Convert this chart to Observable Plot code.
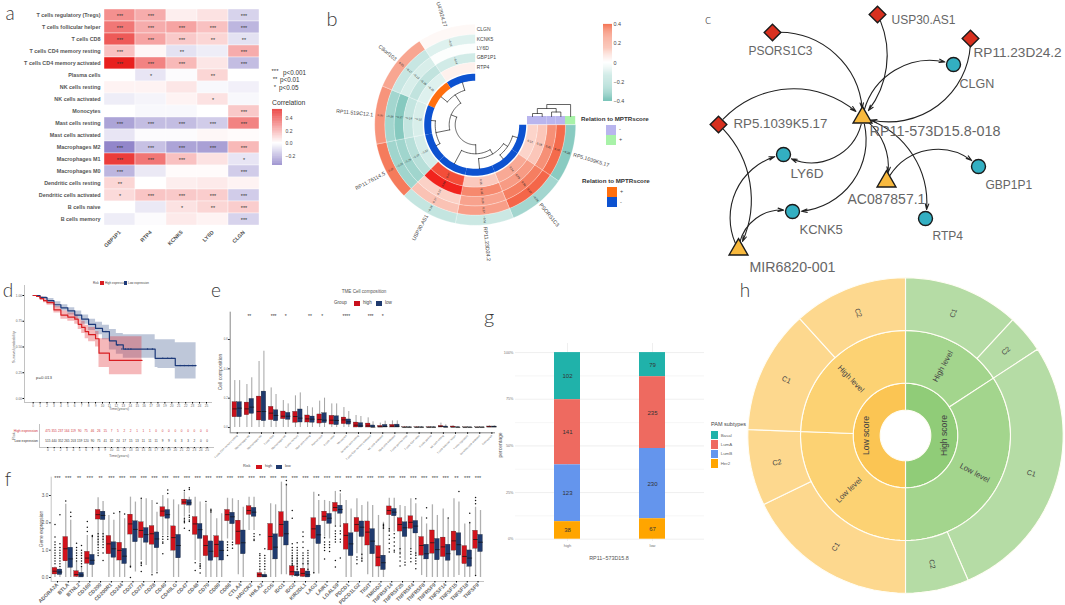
<!doctype html>
<html><head><meta charset="utf-8">
<script src="https://cdn.jsdelivr.net/npm/d3@7"></script>
<script src="https://cdn.jsdelivr.net/npm/@observablehq/plot@0.6"></script>
<style>
html,body{margin:0;padding:0;background:#fff}
#page{position:relative;width:1065px;height:605px;overflow:hidden;font-family:"Liberation Sans",Arial,sans-serif}
.t{position:absolute;white-space:nowrap;line-height:1}
.s{position:absolute}
</style></head><body><div id="page"></div>
<script>
// ---------- a: immune-cell correlation heatmap
const immuneCells=["T cells regulatory (Tregs)","T cells follicular helper","T cells CD8","T cells CD4 memory resting","T cells CD4 memory activated","Plasma cells","NK cells resting","NK cells activated","Monocytes","Mast cells resting","Mast cells activated","Macrophages M2","Macrophages M1","Macrophages M0","Dendritic cells resting","Dendritic cells activated","B cells naive","B cells memory"];
const heatGenes=["GBP1P1","RTP4","KCNK5","LY6D","CLGN"];
const corrValues=[[.27,.2,.04,.07,-.12],[.33,.2,.22,.15,-.2],[.4,.22,.13,.1,-.08],[.15,.02,-.08,-.05,.2],[.54,.3,.17,.06,-.18],[0,-.07,-.01,.1,0],[.03,.03,.06,-.02,-.04],[-.05,-.03,.03,.07,-.02],[0,-.02,-.02,0,.13],[-.25,-.18,-.18,-.14,.3],[-.07,-.01,-.01,.02,.01],[-.33,-.17,-.25,-.26,.17],[.47,.33,.15,.07,-.07],[-.2,-.06,.01,.01,-.14],[.1,0,.04,.05,.03],[.09,.14,.13,.12,-.14],[0,-.06,.07,.1,.12],[-.05,-.01,.05,.03,-.12]];
const corrStars=[["***","***","","","***"],["***","***","***","***","***"],["***","***","***","**","**"],["***","","**","","***"],["***","***","***","","***"],["","*","","**",""],["","","","",""],["","","","*",""],["","","","","***"],["***","***","***","***","***"],["","","","",""],["***","***","***","***","***"],["***","***","***","","*"],["***","","","","***"],["**","","","",""],["*","***","***","***","***"],["","","*","**","***"],["","","","","***"]];
// ---------- b: circular heatmap
const lncRNAs=["U47924.27","C8orf103","RP11.519C12.1","RP11.76114.5","USP30.AS1","RP11.23D24.2","PSORS1C3","RP5.1039K5.17"];
const circleGenes=["CLGN","KCNK5","LY6D","GBP1P1","RTP4"];
const circleValues=[[.02,-.1,-.01,-.14,.04],[.25,-.17,-.12,-.19,-.1],[.3,-.28,-.37,-.18,-.12],[.37,-.29,-.29,-.22,-.13],[-.18,.17,.13,.56,.47],[-.16,.27,.26,.33,.15],[-.28,.42,.36,.28,.24],[-.36,.41,.31,.16,.12]];
const relationToScore=["-","+","-","-","-","-","-","-"];
const columnRelation=["+","-","-","-","-"];
// ---------- c: network
const netNodes=[["PSORS1C3","lnc",772,32],["USP30.AS1","lnc",877,14],["RP11.23D24.2","lnc",970,38],["RP5.1039K5.17","lnc",718,124],["RP11-573D15.8-018","mir",862,117],["AC087857.1","mir",886,181],["MIR6820-001","mir",738,249],["CLGN","gene",953,64],["LY6D","gene",783,154],["GBP1P1","gene",978,166],["KCNK5","gene",792,211],["RTP4","gene",925,218]];
const netLabels=[["PSORS1C3",748,51],["USP30.AS1",891,20],["RP11.23D24.2",973,52],["RP5.1039K5.17",733,123],["RP11-573D15.8-018",869,131],["AC087857.1",847,199],["MIR6820-001",749,267],["CLGN",959,83],["LY6D",790,173],["GBP1P1",985,185],["KCNK5",799,229],["RTP4",932,236]];
const netEdges=[["PSORS1C3","RP11-573D15.8-018",48],["USP30.AS1","RP11-573D15.8-018",35],["RP11.23D24.2","RP11-573D15.8-018",55],["RP11-573D15.8-018","CLGN",50],["RP5.1039K5.17","RP11-573D15.8-018",48],["RP11-573D15.8-018","LY6D",58],["RP11-573D15.8-018","KCNK5",55],["RP11-573D15.8-018","AC087857.1",35],["RP11-573D15.8-018","RTP4",42],["AC087857.1","GBP1P1",55],["MIR6820-001","LY6D",55],["MIR6820-001","KCNK5",50],["RP5.1039K5.17","MIR6820-001",38]];
// ---------- d: survival
const kmHighT=[0,.5,1,1.5,2,3,4,5,6,6.5,7,7.5,8,9,9.5,11,15.7];
const kmHighS=[1,.99,.97,.95,.93,.86,.81,.79,.77,.72,.69,.65,.62,.58,.44,.37,.37];
const kmHighHi=[1,.995,.985,.97,.95,.89,.85,.83,.81,.77,.75,.71,.69,.65,.58,.6,.6];
const kmHighLo=[1,.985,.955,.93,.905,.83,.77,.75,.72,.67,.63,.58,.55,.5,.3,.23,.23];
const kmLowT=[0,1,2,3,4,5,6,7,8,9,10,11,12,13,17.6,18,20.5,23.5];
const kmLowS=[1,.98,.95,.91,.88,.85,.81,.77,.72,.68,.65,.56,.52,.48,.39,.39,.32,.32];
const kmLowHi=[1,.99,.97,.94,.91,.88,.85,.81,.77,.74,.71,.67,.63,.62,.57,.57,.54,.54];
const kmLowLo=[1,.97,.93,.88,.85,.81,.77,.72,.66,.62,.57,.47,.43,.39,.3,.29,.19,.19];
const lowCensorT=[10.5,12.2,12.8,13.3,13.7,14.1,16.5,17.2,18.7,19.4,20,21.2,21.8,22.4,23,23.4];
const lowCensorS=[.65,.52,.48,.48,.48,.48,.48,.48,.39,.39,.39,.32,.32,.32,.32,.32];
const riskHigh=[475,355,237,164,119,90,75,46,26,15,7,5,2,2,1,1,1,0,0,0,0,0,0,0,0,0];
const riskLow=[515,440,352,265,203,159,120,90,75,41,32,24,17,15,13,11,11,11,9,9,6,3,3,2,0,0];
// ---------- e: TME composition, [whisker top, q3, median, q1, whisker bottom]
const tmeCells=["T cells CD4 memory resting","Macrophages M2","Macrophages M0","T cells CD8","Macrophages M1","B cells memory","Mast cells resting","Plasma cells","B cells naive","Monocytes","Dendritic cells resting","T cells CD4 memory activated","NK cells activated","Mast cells activated","T cells gamma delta","T cells CD4 naive","B cells plasma","NK cells resting","T cells follicular helper","T cells regulatory","Dendritic cells activated","Eosinophils"];
const tmeHigh=[[.32,.173,.127,.07,0],[.293,.17,.127,.084,0],[.45,.211,.109,.048,0],[.27,.141,.098,.05,0],[.184,.109,.077,.057,0],[.216,.107,.075,.032,0],[.143,.082,.059,.034,0],[.18,.089,.055,.027,0],[.161,.08,.05,.02,0],[.136,.068,.052,.023,0],[.082,.034,.016,0,0],[.066,.027,.011,0,0],[.03,.011,.005,0,0],[.045,.018,.009,0,0],[.007,.002,0,0,0],[.007,.002,0,0,0],[.007,.002,0,0,0],[.03,.011,.007,0,0],[.011,.007,.002,0,0],[.003,.001,0,0,0],[.003,.001,0,0,0],[.011,.007,.005,0,0]];
const tmeLow=[[.32,.173,.132,.07,0],[.339,.195,.139,.093,0],[.52,.245,.109,.043,0],[.225,.118,.082,.043,0],[.161,.1,.077,.052,0],[.236,.123,.064,.034,0],[.134,.075,.057,.032,0],[.2,.098,.05,.03,0],[.161,.077,.048,.016,0],[.109,.055,.039,.02,0],[.075,.03,.011,0,0],[.039,.014,.002,0,0],[.043,.018,.007,0,0],[.045,.02,.009,0,0],[.007,.002,0,0,0],[.007,.002,0,0,0],[.007,.002,0,0,0],[.018,.007,.002,0,0],[.007,.002,0,0,0],[.003,.001,0,0,0],[.003,.001,0,0,0],[.011,.007,.005,0,0]];
const tmeStars=["","**","","***","*","","**","*","","****","","***","*","","","","","","","","",""];
// ---------- f: checkpoint genes, [whisker top, q3, median, q1, whisker bottom]
const checkpointGenes=["ADORA2A","BTLA","BTNL2","CD160","CD200","CD200R1","CD244","CD27","CD274","CD28","CD40","CD40LG","CD47","CD48","CD70","CD80","CD86","CTLA4","HAVCR2","HHLA2","ICOS","IDO1","IDO2","KIR3DL1","LAG3","LAIR1","LGALS9","PDCD1","PDCD1LG2","TIGIT","TMIGD2","TNFRSF14","TNFRSF25","TNFRSF4","TNFRSF8","TNFRSF9","TNFSF14","TNFSF15","TNFSF18","TNFSF9"];
const geneHigh=[[.38,.35,.23,.11,0],[2.68,1.48,1.05,.59,0],[.56,.23,.11,.02,0],[1.54,.94,.71,.5,0],[2.92,2.47,2.3,2.12,1.15],[2.27,1.52,1.23,.85,0],[2.39,1.27,.99,.62,0],[2.94,2.3,1.96,1.57,.38],[2.88,2.02,1.72,1.44,.62],[2.82,1.88,1.6,1.2,.13],[3,2.57,2.43,2.22,1.54],[2.84,1.87,1.46,.98,0],[3.12,2.85,2.76,2.66,2.21],[2.94,2.21,1.96,1.56,.62],[2.7,1.52,1.17,.78,0],[2.15,1.51,1.21,.73,0],[2.9,2.47,2.3,2.06,1.41],[2.82,2.08,1.69,1.2,.1],[2.94,2.61,2.45,2.29,1.72],[.26,.16,.1,0,0],[2.7,1.96,1.5,.99,0],[3.49,2.39,1.94,1.48,.1],[.8,.41,.21,.07,0],[.68,.32,.15,.02,0],[3.12,2.17,1.78,1.41,.13],[2.82,2.41,2.24,2.06,1.48],[3.15,2.73,2.56,2.41,1.9],[2.82,1.96,1.54,1.02,0],[2.88,2.18,1.94,1.66,.87],[2.76,2.05,1.66,1.17,.1],[2.27,1.15,.74,.4,0],[2.9,2.6,2.45,2.28,1.66],[2.63,2.17,1.94,1.68,.8],[2.88,2.24,2.02,1.78,1.05],[2.21,1.48,1.17,.8,.07],[2.66,1.72,1.27,.87,0],[2.51,1.46,1.12,.75,0],[2.88,1.68,1.34,.98,0],[1.96,1.15,.77,.49,0],[2.57,1.71,1.39,1.05,.05]];
const geneLow=[[.32,.29,.2,.09,0],[2.09,1.09,.68,.35,0],[.38,.17,.09,0,0],[1.48,.83,.63,.45,0],[2.78,2.41,2.27,2.1,1.32],[2.09,1.29,1.05,.72,0],[2.15,1.05,.78,.49,0],[2.76,2.06,1.76,1.29,.2],[2.88,1.81,1.57,1.27,.44],[2.39,1.65,1.41,1.07,.2],[2.88,2.47,2.3,2.15,1.54],[2.66,1.56,1.17,.7,0],[2.94,2.83,2.73,2.63,2.33],[2.76,1.96,1.75,1.41,.54],[2.45,1.32,.96,.61,0],[2.33,1.32,.99,.62,0],[2.88,2.37,2.22,1.95,1.35],[2.57,1.72,1.27,.85,0],[2.94,2.55,2.39,2.22,1.72],[.2,.1,.05,0,0],[2.66,1.58,1.11,.66,0],[3.43,2.05,1.6,1.17,.1],[.74,.21,.1,.04,0],[.62,.22,.1,0,0],[2.82,1.9,1.56,1.22,.13],[2.78,2.33,2.17,1.96,1.41],[3.06,2.63,2.49,2.33,1.9],[2.51,1.62,1.23,.78,0],[2.63,2.05,1.84,1.48,.56],[2.63,1.77,1.33,.85,0],[2.02,.8,.54,.27,0],[2.9,2.51,2.39,2.24,1.66],[2.6,2.02,1.82,1.48,.62],[2.7,2.07,1.88,1.61,.8],[1.96,1.2,.87,.66,0],[2.27,1.41,1.02,.63,0],[2.15,1.2,.87,.61,0],[2.76,1.62,1.2,.8,.07],[2.02,.99,.71,.39,0],[2.45,1.56,1.29,.93,0]];
const outHigh=[[1.94,1.48,1.3,1.2,1.1,1,.9,.8,.7,.6,.5],[2.8],[1.25,1.1,1,.9,.8,.7,.6],[2.05,1.84,1.68],[1.6,1.5,1.4,1.3,1.2,1.1,1,.9,.8],[],[2.41],[.41,.38,0],[2.9,.56,.5,.44,.22],[.1],[1.5,1.4,1.3,1.25,.87],[],[3.18,2.17,2.1,2.05,2,1.8],[.54,.26],[2.78],[],[1.3,1.2,1.1,1,.8],[],[],[1.56,.87,.8,.7,.6,.5,.4,.3],[],[],[2.45,2.17,1.23,1.1,1,.9,.8,.7,.6,.5,.45],[1.66,1.5,1.3,1.1,.9,.8,.7,.5],[.17],[1.45,1.3,1.2,1.1,.99,.68],[1.88,1.7,1.6,1.5,1.4,1.3,.62,.38],[],[.75,.65,.5],[],[],[1.78,1.7,1.55,1.4,1.25,1.05,.93],[1.05,.9,.75,.6,.42],[1.05,.95,.85,.7,.58],[],[],[],[],[],[2.93,2.82,2.7,.07]];
const outLow=[[2.3,1.23,1.1,1,.9,.8,.7,.6,.5,.4],[2.39,2.23],[1.17,1,.9,.8,.7,.6,.5,.4],[1.54,1.5],[1.6,1.5,1.4,1.3,1.2,1.1,.9,.62],[2.35],[2.32],[],[],[2.72,.17],[3.2,3.07,1.5,1.4],[],[3.28,3.22,2.28,2.2,2.1,2.05,1.72],[.5,.45,.4,.34,.16],[2.5,2.45,2.4],[],[1.29,1.2,1.07],[],[1.6,1.5,1.4,1.35],[1.05,.8,.7,.6,.5,.4,.3],[],[3.55,3.39],[1.27,1.1,1,.9,.8,.7,.6,.5,.4,.3],[.99,.9,.8,.7,.6,.5,.3],[3.02],[1.3,1.2,1.1,.95],[3.17,1.88,1.7,1.6,1.4,1.3,.71],[],[.85,.7,.6],[],[1.95,1.9,1.85,1.8],[1.6,1.45,1.3,1.15,1,.93],[.56,.46],[2.88,.9,.8,.7,.6,.5,.32],[2.55,2.18],[],[2.18],[3.15],[2.35,2],[]];
const geneStars={"BTNL2":"**","CD200":"**","TNFSF15":"**"};
// ---------- g: PAM subtype
const pamGroups=["high","low"];
const pamTypes=["Basal","LumA","LumB","Her2"];
const pamHigh=[102,141,123,38];
const pamLow=[79,235,230,67];
const pamColors=["#20b2aa","#ee6a60","#6495ed","#ffa500"];
// ---------- h: sunburst, shares of the circle
const innerNames=["High score","Low score"];
const innerShares=[.5,.5];
const midNames=["High level","Low level","Low level","High level"];
const midShares=[.158,.342,.256,.244];
const outerNames=["C1","C2","C1","C2","C1","C2","C1","C2"];
const outerShares=[.119,.039,.277,.065,.178,.078,.127,.117];

// ---------- helpers
const page=document.getElementById("page");
const FONT='"Liberation Sans",Arial,sans-serif';
function place(left,top,options){
  const el=Plot.plot({marginTop:0,marginRight:0,marginBottom:0,marginLeft:0,...options,style:{background:"none",overflow:"visible",fontFamily:FONT}});
  el.style.position="absolute";el.style.left=left+"px";el.style.top=top+"px";
  page.append(el);return el;
}
function lab(text,x,y,o={}){
  const d=document.createElement("div");d.className="t";d.textContent=text;
  const ax=o.anchor==="start"?"0":o.anchor==="end"?"-100%":"-50%";
  d.style.cssText=`left:${x}px;top:${y}px;font-size:${o.size||6}px;color:${o.color||"#444"};font-weight:${o.weight||400};${o.family?`font-family:${o.family};`:""}transform:translate(${ax},-50%) rotate(${o.rotate||0}deg);transform-origin:${o.anchor==="start"?"0 50%":o.anchor==="end"?"100% 50%":"50% 50%"}`;
  page.append(d);
}
function swatch(x,y,w,h,c){const d=document.createElement("div");d.className="s";d.style.cssText=`left:${x}px;top:${y}px;width:${w}px;height:${h}px;background:${c}`;page.append(d);}
// a is clockwise degrees from 12 o'clock
const pt=(a,r)=>[r*Math.sin(a*Math.PI/180),-r*Math.cos(a*Math.PI/180)];
function sector(id,a0,a1,r0,r1,props){
  const n=Math.max(2,Math.ceil(Math.abs(a1-a0)/3)),out=[];
  for(let i=0;i<=n;i++){const [x,y]=pt(a0+(a1-a0)*i/n,r1);out.push({id,x,y,...props});}
  for(let i=n;i>=0;i--){const [x,y]=pt(a0+(a1-a0)*i/n,r0);out.push({id,x,y,...props});}
  return out;
}
function arcPath(id,a0,a1,r){
  const n=Math.max(2,Math.ceil(Math.abs(a1-a0)/3)),out=[];
  for(let i=0;i<=n;i++){const [x,y]=pt(a0+(a1-a0)*i/n,r);out.push({id,x,y});}
  return out;
}

// ---------- panel a
{
  const cells=immuneCells.flatMap((c,i)=>heatGenes.map((g,j)=>({c,g,v:corrValues[i][j],s:corrStars[i][j]})));
  const color={type:"linear",domain:[-.35,0,.54],range:["#8b7fc7","#ffffff","#e8201e"],clamp:true};
  place(0,0,{width:262,height:262,marginLeft:104,marginTop:6,marginRight:3,marginBottom:35,
    x:{domain:heatGenes,padding:0,label:null},y:{domain:immuneCells,padding:0,label:null},color,
    marks:[
      Plot.cell(cells,{x:"g",y:"c",fill:"v",stroke:"#fff",strokeWidth:.4}),
      Plot.text(cells,{x:"g",y:"c",text:"s",fontSize:5.5,fill:"#333",dy:.5}),
      Plot.axisY({tickSize:0,tickPadding:4,fontSize:5.4,fontWeight:"bold",fill:"#555",label:null}),
      Plot.axisX({tickSize:0,tickPadding:4,tickRotate:-45,fontSize:5.4,fontWeight:"bold",fill:"#555",label:null})
    ]});
  place(272,109,{width:30,height:56,marginRight:20,
    x:{domain:[0,1],axis:null},y:{domain:[-.35,.54],label:null},color,
    marks:[
      Plot.rect(d3.range(-.35,.54,.01),{x1:0,x2:1,y1:d=>d,y2:d=>d+.011,fill:d=>d}),
      Plot.axisY({anchor:"right",ticks:[-.2,0,.2,.4],tickFormat:d=>d3.format(".1f")(d).replace("-","\u2212"),tickSize:0,tickPadding:3,fontSize:5,fill:"#444",label:null})
    ]});
  lab("***",275,71,{size:6,color:"#333"});lab("p<0.001",283,72.5,{size:6.3,anchor:"start",color:"#333"});
  lab("**",275,79,{size:6,color:"#333"});lab("p<0.01",280,80,{size:6.3,anchor:"start",color:"#333"});
  lab("*",275,87,{size:6,color:"#333"});lab("p<0.05",279,87.5,{size:6.3,anchor:"start",color:"#333"});
  lab("Correlation",272,103,{size:6.8,anchor:"start",color:"#333"});
}

// ---------- panel b
{
  const R=[100.5,90.3,81,71.7,62.3,52.3];
  const step=33.75;
  const color={type:"linear",domain:[-.4,0,.4,.6],range:["#7cc5ba","#ffffff","#f4704f","#f01010"],clamp:true};
  const polys=[],vals=[],outer=[];
  lncRNAs.forEach((name,i)=>{
    const a0=-i*step,a1=-(i+1)*step,mid=(a0+a1)/2;
    circleGenes.forEach((g,j)=>{
      const v=circleValues[i][j];
      polys.push(...sector(`c${i}-${j}`,a0,a1,R[j+1],R[j],{v}));
      if(Math.abs(v)>=.1){const [x,y]=pt(mid,(R[j]+R[j+1])/2);vals.push({x,y,t:d3.format(".2f")(v),rot:mid>-180?mid+90:mid-90});}
    });
    const [x,y]=pt(mid,R[0]+2);
    outer.push({x,y,name,rot:mid>-180?mid+90:mid-90,left:mid>-180});
  });
  const anno=lncRNAs.flatMap((n,i)=>sector("a"+i,-i*step,-(i+1)*step,44,51,{fill:relationToScore[i]==="+"?"#ff6f0f":"#0d52d0"}));
  const leaf=i=>-(i+.5)*step;
  const lines=[];let k=0;
  const merge=(a,ra,b,rb,r)=>{
    lines.push(...arcPath("d"+(k++),a,b,r));
    lines.push(...[pt(a,ra),pt(a,r)].map(([x,y])=>({id:"d"+k,x,y})));k++;
    lines.push(...[pt(b,rb),pt(b,r)].map(([x,y])=>({id:"d"+k,x,y})));k++;
    return (a+b)/2;
  };
  const m1=merge(leaf(0),44,leaf(1),44,36);
  const m2=merge(leaf(2),44,leaf(3),44,40);
  const m3=merge(m1,36,m2,40,26);
  const m6=merge(leaf(6),44,leaf(7),44,39);
  const m5=merge(leaf(5),44,m6,39,34);
  const m4=merge(leaf(4),44,m5,34,29);
  merge(m3,26,m4,29,20);
  const mids=circleGenes.map((g,j)=>(R[j]+R[j+1])/2);
  const strip=circleGenes.map((g,j)=>({r0:R[j+1],r1:R[j],f:columnRelation[j]==="+"?"#a8f2a8":"#b9b5ee"}));
  const colLines=[];
  const cm=(xa,ha,xb,hb,h,id)=>{colLines.push({id,x:xa,y:-8.3-ha},{id,x:xa,y:-8.3-h},{id,x:xb,y:-8.3-h},{id,x:xb,y:-8.3-hb});return (xa+xb)/2;};
  const c1=cm(mids[4],0,mids[3],0,3,"k1");
  const c2=cm(mids[2],0,mids[1],0,4.5,"k2");
  const c3=cm(c1,3,c2,4.5,8,"k3");
  cm(c3,8,mids[0],0,12,"k4");
  const rows=circleGenes.map((g,j)=>({g,y:-(R[j]+R[j+1])/2}));
  place(325,0,{width:255,height:270,
    x:{domain:[-149.7,105.3],axis:null},y:{domain:[-124.3,145.7],axis:null,reverse:true},color,
    marks:[
      Plot.line(polys,{x:"x",y:"y",z:"id",fill:"v",stroke:"#ffffff",strokeWidth:.25,curve:"linear-closed"}),
      Plot.line(anno,{x:"x",y:"y",z:"id",fill:"fill",curve:"linear-closed"}),
      Plot.line(lines,{x:"x",y:"y",z:"id",stroke:"#222",strokeWidth:.7}),
      Plot.rect(strip,{x1:"r0",x2:"r1",y1:-8.3,y2:0,fill:"f"}),
      Plot.line(colLines,{x:"x",y:"y",z:"id",stroke:"#222",strokeWidth:.7}),
      Plot.text(vals,{x:"x",y:"y",text:"t",rotate:"rot",fontSize:2.8,fill:"#222"}),
      Plot.text(outer.filter(d=>d.left),{x:"x",y:"y",text:"name",rotate:"rot",textAnchor:"end",fontSize:5.3,fill:"#444"}),
      Plot.text(outer.filter(d=>!d.left),{x:"x",y:"y",text:"name",rotate:"rot",textAnchor:"start",fontSize:5.3,fill:"#444"}),
      Plot.text(rows,{x:1.5,y:"y",text:"g",textAnchor:"start",fontSize:5,fill:"#444"})
    ]});
  place(603,24,{width:36,height:77,marginRight:27,
    x:{domain:[0,1],axis:null},y:{domain:[-.4,.4],label:null},color,
    marks:[
      Plot.rect(d3.range(-.4,.4,.01),{x1:0,x2:1,y1:d=>d,y2:d=>d+.011,fill:d=>d}),
      Plot.axisY({anchor:"right",ticks:[-.4,-.2,0,.2,.4],tickFormat:d=>d===0?"0":d3.format(".1f")(d).replace("-","\u2212"),tickSize:0,tickPadding:1,fontSize:5.4,fill:"#444",label:null})
    ]});
  lab("Relation to MPTRscore",581,119,{size:6.2,weight:700,anchor:"start",color:"#333"});
  swatch(606,125,10,9.5,"#b9b5ee");swatch(606,135,10,9.5,"#a8f2a8");
  lab("-",619,130,{size:5.5,anchor:"start"});lab("+",619,140,{size:5.5,anchor:"start"});
  lab("Relation to MPTRscore",582,181,{size:6.2,weight:700,anchor:"start",color:"#333"});
  swatch(607,187,10,9.5,"#ff6f0f");swatch(607,197,10,9.5,"#0d52d0");
  lab("+",620,192,{size:5.5,anchor:"start"});lab("-",620,203,{size:5.5,anchor:"start"});
}

// ---------- panel c
{
  const node=new Map(netNodes.map(([n,k,x,y])=>[n,{n,k,x,y}]));
  const nodes=[...node.values()];
  const fills={lnc:"#d8301f",mir:"#f8b93e",gene:"#33afc2"};
  const syms={lnc:"diamond2",mir:"triangle2",gene:"circle"};
  const labelSize={"PSORS1C3":12,"USP30.AS1":12,"RP11.23D24.2":13.6,"RP5.1039K5.17":13.3,"RP11-573D15.8-018":14.4,"AC087857.1":14,"MIR6820-001":14.2,"CLGN":12.5,"LY6D":13.6,"GBP1P1":12,"KCNK5":13,"RTP4":12};
  const arrows=netEdges.map(([a,b,bend])=>Plot.arrow([{a:node.get(a),b:node.get(b)}],{x1:d=>d.a.x,y1:d=>d.a.y,x2:d=>d.b.x,y2:d=>d.b.y,bend,stroke:"#222",strokeWidth:1.1,headLength:8,headAngle:34,insetStart:7,insetEnd:9}));
  place(680,0,{width:385,height:290,
    x:{domain:[680,1065],axis:null},y:{domain:[0,290],axis:null,reverse:true},symbol:{type:"identity"},
    marks:[
      arrows,
      ["lnc","mir","gene"].map(k=>Plot.dot(nodes.filter(d=>d.k===k),{x:"x",y:"y",symbol:()=>syms[k],r:k==="mir"?9:k==="lnc"?7.5:7,fill:fills[k],stroke:"#1a1a1a",strokeWidth:1.4})),
      Object.keys(labelSize).map(n=>Plot.text(netLabels.filter(d=>d[0]===n),{x:d=>d[1],y:d=>d[2],text:d=>d[0],textAnchor:"start",fontSize:labelSize[n],fill:"#666"}))
    ]});
}

// ---------- panel d
{
  const hi=kmHighT.map((t,i)=>({t,s:kmHighS[i],u:kmHighHi[i],l:kmHighLo[i]}));
  const lo=kmLowT.map((t,i)=>({t,s:kmLowS[i],u:kmLowHi[i],l:kmLowLo[i]}));
  const cens=lowCensorT.map((t,i)=>({t,s:lowCensorS[i]}));
  const yrs=d3.range(0,26);
  place(0,280,{width:220,height:135,marginLeft:24,marginRight:8,marginTop:5,marginBottom:13,
    x:{domain:[-1.25,25.87],label:null},y:{domain:[-.039,1.097],label:null},
    marks:[
      Plot.areaY(lo,{x:"t",y1:"l",y2:"u",curve:"step-after",fill:"#6f83aa",fillOpacity:.45}),
      Plot.areaY(hi,{x:"t",y1:"l",y2:"u",curve:"step-after",fill:"#e2343a",fillOpacity:.35}),
      Plot.line(lo,{x:"t",y:"s",curve:"step-after",stroke:"#1d3a7a",strokeWidth:1.2}),
      Plot.line(hi,{x:"t",y:"s",curve:"step-after",stroke:"#d81e22",strokeWidth:1.2}),
      Plot.dot(cens,{x:"t",y:"s",r:.7,fill:"#1d3a7a"}),
      Plot.ruleX([-1.25],{stroke:"#999",strokeWidth:.6}),
      Plot.ruleY([-.039],{stroke:"#999",strokeWidth:.6}),
      Plot.axisY({ticks:[0,.25,.5,.75,1],tickFormat:".2f",tickSize:1.5,tickPadding:1,fontSize:3.2,fill:"#666",label:null}),
      Plot.axisX({ticks:yrs,tickFormat:d=>d,tickSize:1.5,tickPadding:1,fontSize:3.2,fill:"#666",label:null})
    ]});
  const rows=["High expression","Low expression"];
  const tab=rows.flatMap((r,ri)=>(ri?riskLow:riskHigh).map((n,i)=>({r,n,i})));
  place(0,420,{width:220,height:45,marginLeft:39,marginRight:7,marginTop:4,marginBottom:18,
    x:{domain:[-1.3,26],label:null},y:{domain:rows,axis:null,type:"band"},
    marks:[
      Plot.text(tab,{x:"i",y:"r",text:"n",fontSize:3.1,fill:d=>d.r===rows[0]?"#d0343a":"#333"}),
      Plot.text(rows,{x:-1.3,y:d=>d,text:d=>d,textAnchor:"end",dx:-1.5,fontSize:3.4,fill:d=>d===rows[0]?"#d0343a":"#333"}),
      Plot.ruleX([-1.3],{stroke:"#999",strokeWidth:.6}),
      Plot.frame({anchor:"bottom",stroke:"#999",strokeWidth:.6}),
      Plot.axisX({ticks:yrs,tickFormat:d=>d,tickSize:1,tickPadding:.5,fontSize:3.2,fill:"#666",label:null})
    ]});
  lab("Survival probability",15,347,{size:3.8,rotate:-90,color:"#666"});
  lab("Time(years)",119,410,{size:3.8,color:"#666"});
  lab("Time(years)",119,457,{size:3.8,color:"#666"});
  lab("p=0.013",36,378,{size:4.4,anchor:"start",color:"#444"});
  lab("Risk",15,436,{size:3.8,rotate:-90,color:"#666"});
  lab("Risk",93,283,{size:3,anchor:"start"});swatch(100,281,3.5,3.5,"#d81e22");lab("High expression",105,283,{size:3,anchor:"start"});
  swatch(123.5,281,3.5,3.5,"#1d3a7a");lab("Low expression",128,283,{size:3,anchor:"start"});
}

// shared box drawing
function boxMarks(stats,off,half,fill,wStroke,wWidth){
  const b=stats.map((s,i)=>({i,top:s[0],q3:s[1],med:s[2],q1:s[3],bot:s[4]}));
  return [
    Plot.ruleX(b,{x:d=>d.i+off,y1:"bot",y2:"top",stroke:wStroke,strokeWidth:wWidth}),
    Plot.rect(b,{x1:d=>d.i+off-half,x2:d=>d.i+off+half,y1:"q1",y2:"q3",fill,stroke:"#222",strokeWidth:.25}),
    Plot.link(b,{x1:d=>d.i+off-half,x2:d=>d.i+off+half,y1:"med",y2:"med",stroke:"#111",strokeWidth:.7})
  ];
}

// ---------- panel e
{
  const RED="#c9101c",NAVY="#1f3a6e";
  place(215,280,{width:290,height:180,marginLeft:14.7,marginRight:10,marginTop:31.7,marginBottom:27.7,
    x:{domain:[-.58,21.3],label:null},y:{domain:[-.036,.786],label:null},
    marks:[
      boxMarks(tmeHigh,-.2,.19,RED,"#999",.9),
      boxMarks(tmeLow,.2,.19,NAVY,"#999",.9),
      Plot.text(tmeStars,{x:(d,i)=>i,y:.76,text:d=>d,fontSize:5,fill:"#333"}),
      Plot.ruleX([-.58],{stroke:"#555",strokeWidth:.7}),
      Plot.ruleY([-.036],{stroke:"#555",strokeWidth:.7}),
      Plot.axisY({ticks:[0,.2,.4,.6],tickFormat:".1f",tickSize:1.5,tickPadding:1,fontSize:2.8,fill:"#666",label:null}),
      Plot.axisX({ticks:d3.range(22),tickFormat:i=>tmeCells[i],tickRotate:-45,tickSize:1.5,tickPadding:1,fontSize:2.6,fill:"#666",label:null})
    ]});
  lab("TME Cell composition",364,292,{size:4.6,color:"#555"});
  lab("Group",334,303,{size:4.6,anchor:"start",color:"#444"});swatch(353.5,300.5,6,5,RED);lab("high",363,303,{size:4.6,anchor:"start",color:"#444"});
  swatch(376,300.5,6,5,NAVY);lab("low",385,303,{size:4.6,anchor:"start",color:"#444"});
  lab("Cell composition",220,372,{size:5,rotate:-90,color:"#555"});
}

// ---------- panel f
{
  const RED="#d2131c",NAVY="#1f3a6e";
  const outs=[...outHigh.flatMap((o,i)=>o.map(v=>({x:i-.23,v}))),...outLow.flatMap((o,i)=>o.map(v=>({x:i+.23,v})))];
  place(0,462,{width:500,height:143,marginLeft:50.7,marginRight:16,marginTop:14.7,marginBottom:24,
    x:{domain:[-.58,39.6],label:null},y:{domain:[-.147,3.67],label:null},
    marks:[
      boxMarks(geneHigh,-.23,.22,RED,"#b0b0b0",1.3),
      boxMarks(geneLow,.23,.22,NAVY,"#b0b0b0",1.3),
      Plot.dot(outs,{x:"x",y:"v",r:.75,fill:"#111"}),
      Plot.text(checkpointGenes,{x:(d,i)=>i,y:3.62,text:d=>geneStars[d]||"***",fontSize:5.5,fill:"#444"}),
      Plot.ruleX([-.58],{stroke:"#aaa",strokeWidth:.7}),
      Plot.ruleY([-.147],{stroke:"#aaa",strokeWidth:.7}),
      Plot.axisY({ticks:[0,1,2,3],tickSize:1.5,tickPadding:1.5,fontSize:4.6,fill:"#555",label:null}),
      Plot.axisX({ticks:d3.range(40),tickFormat:i=>checkpointGenes[i],tickRotate:-45,tickSize:1.5,tickPadding:1,fontSize:5.2,fontWeight:"bold",fill:"#666",label:null})
    ]});
  lab("Gene expression",41.7,529,{size:4.8,rotate:-90,color:"#555"});
  lab("Risk",243,467,{size:3.8,anchor:"start"});swatch(256,465,6,4,RED);lab("high",265,467,{size:3.8,anchor:"start"});
  swatch(276,465,6,4,NAVY);lab("low",285,467,{size:3.8,anchor:"start"});
}

// ---------- panel g
{
  const rows=pamGroups.flatMap((g,gi)=>pamTypes.map((t,i)=>({g,t,n:(gi?pamLow:pamHigh)[i]})));
  const order=[...pamTypes].reverse();
  const minor=[.125,.375,.625,.875];
  place(500,343,{width:210,height:198,marginLeft:15,marginRight:6,
    x:{domain:pamGroups,paddingInner:.7,paddingOuter:.455,label:null},
    y:{domain:[-.0123,1.0487],label:null},
    color:{domain:pamTypes,range:pamColors},
    marks:[
      Plot.gridY(minor,{stroke:"#f0f0f0",strokeOpacity:1,strokeWidth:.6}),
      Plot.gridY([0,.25,.5,.75,1],{stroke:"#ebebeb",strokeOpacity:1,strokeWidth:.8}),
      Plot.gridX(pamGroups,{stroke:"#ebebeb",strokeOpacity:1,strokeWidth:.8}),
      Plot.barY(rows,{x:"g",y:"n",z:"t",fill:"t",order,offset:"normalize"}),
      Plot.text(rows,Plot.stackY({x:"g",y:"n",z:"t",text:"n",order,offset:"normalize",fontSize:6,fill:"#333"})),
      Plot.axisY({ticks:[0,.25,.5,.75,1],tickFormat:d=>d*100+"%",tickSize:0,tickPadding:2,fontSize:3.8,fill:"#777",label:null}),
      Plot.axisX({tickSize:0,tickPadding:3,fontSize:4,fill:"#777",label:null})
    ]});
  lab("percentage",500,445,{size:5,rotate:-90,color:"#555"});
  lab("RP11\u2212573D15.8",609,559,{size:5.4,color:"#555"});
  lab("PAM subtypes",711,425,{size:5.5,anchor:"start",color:"#444"});
  pamTypes.forEach((t,i)=>{swatch(711,431+i*9.4,7,8.4,pamColors[i]);lab(t,720.7,435.5+i*9.4,{size:4.4,anchor:"start",color:"#666"});});
}

// ---------- panel h
{
  const rings=[
    {names:innerNames,shares:innerShares,r0:25.3,r1:52.3,fills:["#90cc78","#fbc553"]},
    {names:midNames,shares:midShares,r0:52.3,r1:105,fills:["#a3d58d","#a3d58d","#fcd273","#fcd273"]},
    {names:outerNames,shares:outerShares,r0:105,r1:157.7,fills:["#b5dca5","#b5dca5","#b5dca5","#b5dca5","#fdd88e","#fdd88e","#fdd88e","#fdd88e"]}
  ];
  const polys=[],labels=[];
  rings.forEach((ring,ri)=>{
    let a=0;
    ring.names.forEach((name,i)=>{
      const a0=a,a1=a+ring.shares[i]*360;a=a1;
      polys.push(...sector(`h${ri}-${i}`,a0,a1,ring.r0,ring.r1,{f:ring.fills[i]}));
      const mid=(a0+a1)/2,[x,y]=pt(mid,(ring.r0+ring.r1)/2);
      const rot=ri===0?-90:(mid<180?mid-90:mid+90);
      labels.push({x,y,name,rot,size:ri===0?8.6:ri===1?7.8:7.2});
    });
  });
  place(740,270,{width:325,height:335,
    x:{domain:[-165,160],axis:null},y:{domain:[-165,170],axis:null,reverse:true},
    marks:[
      Plot.line(polys,{x:"x",y:"y",z:"id",fill:"f",stroke:"#fffdf4",strokeWidth:1.1,curve:"linear-closed"}),
      [8.6,7.8,7.2].map(s=>Plot.text(labels.filter(d=>d.size===s),{x:"x",y:"y",text:"name",rotate:"rot",fontSize:s,fill:"#444"}))
    ]});
}

// ---------- panel letters
[["a",10,12,19],["b",332,18,20],["c",708,19,13],["d",8,289,19],["e",216,289,19],["f",8,478,19],["g",489,316,20],["h",745,289,19]].forEach(([t,x,y,s])=>lab(t,x,y,{size:s,color:"#3a3a3a",weight:300,family:'Lato,"Liberation Sans",sans-serif'}));
</script></body></html>
